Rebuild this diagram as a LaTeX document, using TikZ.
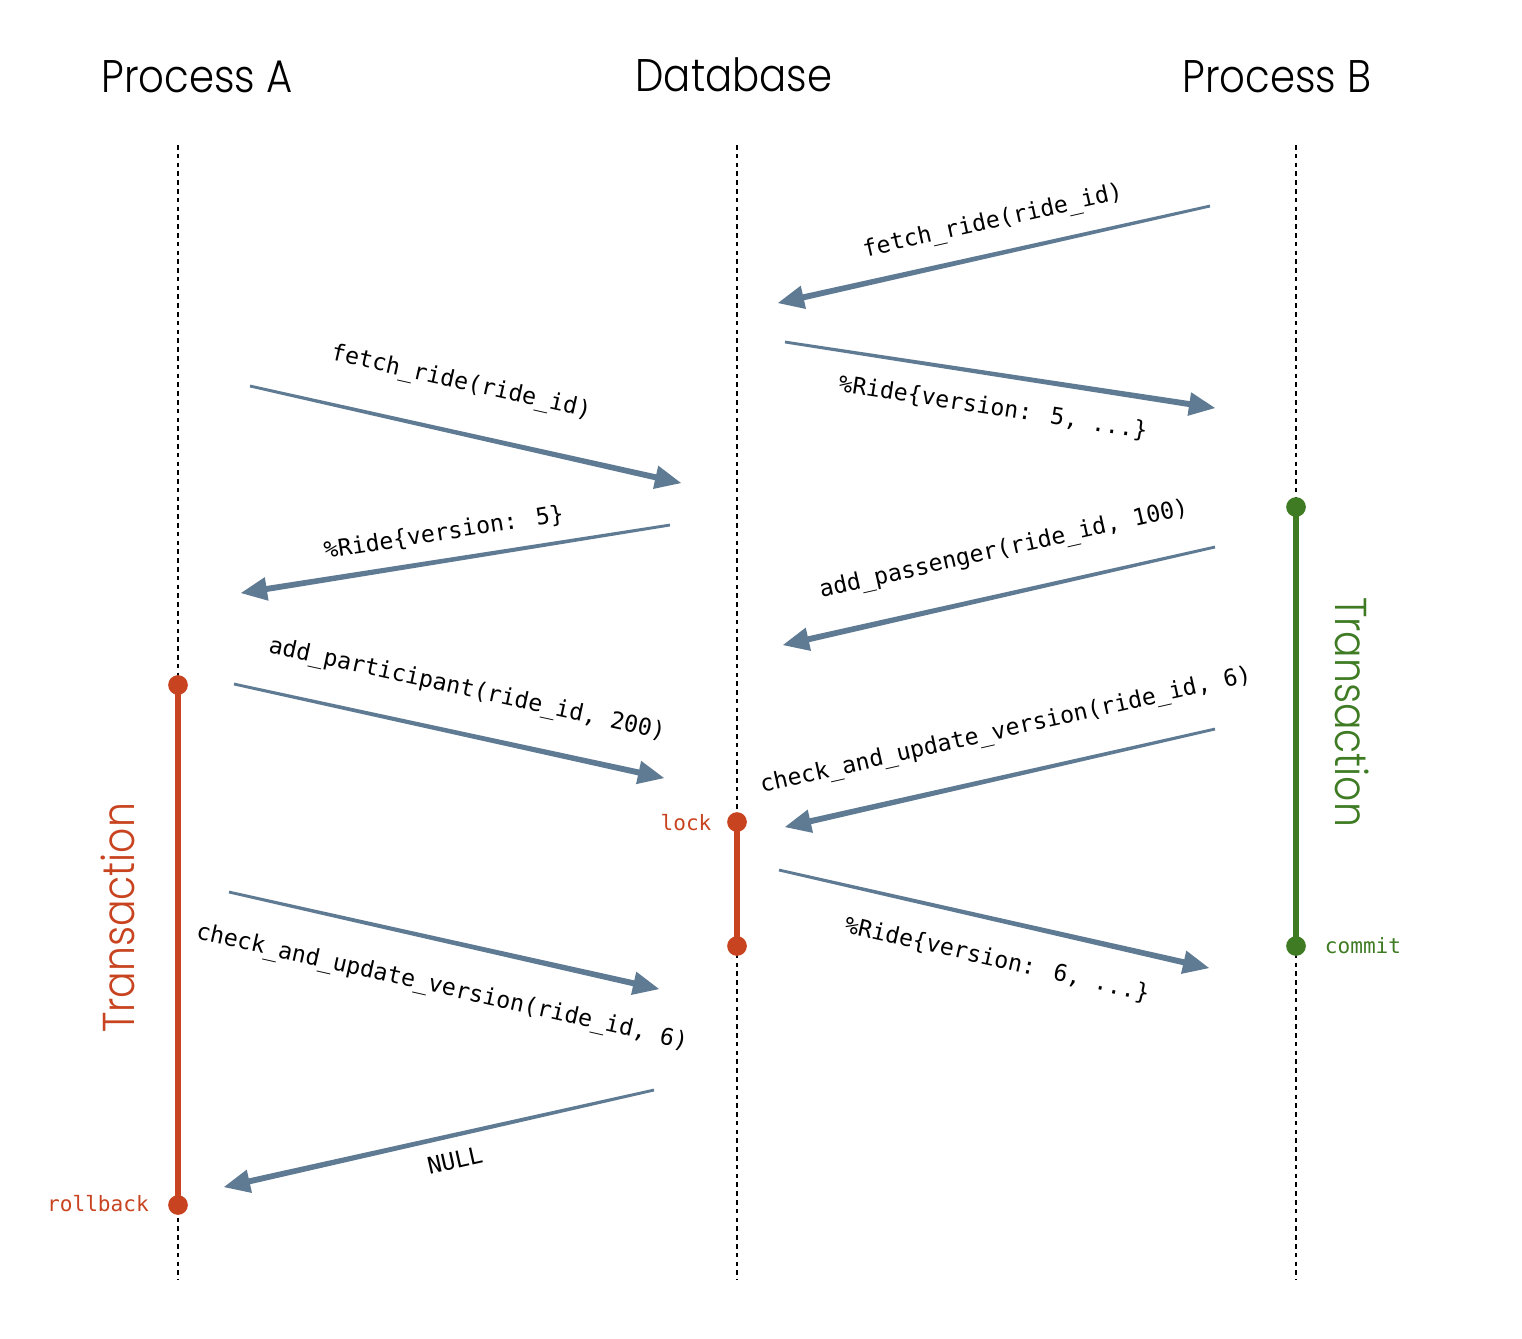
\documentclass[tikz,border=0pt]{standalone}
\usepackage{fontspec}
\usetikzlibrary{calc}
\newfontfamily\headfont{Poppins Light}[FakeStretch=0.88]
\newfontfamily\codefont{DejaVu Sans Mono}
\definecolor{arrowc}{HTML}{5F7A93}
\definecolor{txred}{HTML}{C8431F}
\definecolor{txgreen}{HTML}{3E7B23}
\newcommand\msgarrow[2]{%
  \coordinate (hb) at ($(#2)!0.26cm!(#1)$);
  \fill[arrowc] ($(#1)!0.4pt!90:(#2)$) -- ($(hb)!0.85pt!90:(#2)$) -- ($(hb)!3.4pt!90:(#2)$)
    -- (#2) -- ($(hb)!3.4pt!-90:(#2)$) -- ($(hb)!0.85pt!-90:(#2)$) -- ($(#1)!0.4pt!-90:(#2)$) -- cycle;
}
\tikzset{
  lifeline/.style={line width=0.8pt, dash pattern=on 1.3pt off 1.2pt},
  header/.style={font=\headfont\fontsize{13}{15}\selectfont, inner sep=0pt},
  msglabel/.style={font=\codefont\fontsize{6.6}{8}\selectfont, inner sep=0pt},
  smalllabel/.style={font=\codefont\fontsize{6}{7}\selectfont, inner sep=0pt},
  txlabel/.style={font=\headfont\fontsize{12.7}{15}\selectfont, inner sep=0pt},
  txbar/.style={line width=1.45pt},
  txdot/.style={circle, inner sep=0pt, minimum size=5.6pt},
}
\begin{document}
\begin{tikzpicture}[x=0.01cm, y=-0.01cm]
\useasboundingbox (0,0) rectangle (1522,1338);
% headers
\node[header] (hA) at (197,77) {Process A};
\node[header] (hD) at (734,75) {Database};
\node[header] (hB) at (1277,77) {Process B};
% lifelines
\coordinate (A0) at (178,145); \coordinate (A1) at (178,1280);
\coordinate (D0) at (737,145); \coordinate (D1) at (737,1280);
\coordinate (B0) at (1296,145); \coordinate (B1) at (1296,1280);
\draw[lifeline] (A0) -- (A1);
\draw[lifeline] (D0) -- (D1);
\draw[lifeline] (B0) -- (B1);
% transactions
\node[txdot, fill=txred] (ta0) at (178,685) {};
\node[txdot, fill=txred] (ta1) at (178,1205) {};
\draw[txbar, txred] (ta0.center) -- (ta1.center);
\node[txlabel, text=txred, rotate=90] (tat) at (118,918) {Transaction};
\node[smalllabel, text=txred] (rb) at (98,1204) {rollback};
\node[txdot, fill=txred] (l0) at (737,822) {};
\node[txdot, fill=txred] (l1) at (737,946) {};
\draw[txbar, txred] (l0.center) -- (l1.center);
\node[smalllabel, text=txred] (lk) at (686,823) {lock};
\node[txdot, fill=txgreen] (tb0) at (1296,507) {};
\node[txdot, fill=txgreen] (tb1) at (1296,946) {};
\draw[txbar, txgreen] (tb0.center) -- (tb1.center);
\node[txlabel, text=txgreen, rotate=-90] (tbt) at (1352,712) {Transaction};
\node[smalllabel, text=txgreen] (cm) at (1363,946) {commit};
% message endpoints
\coordinate (m1s) at (1210,206);  \coordinate (m1e) at (778,303);
\coordinate (m2s) at (785,342);   \coordinate (m2e) at (1215,408);
\coordinate (m3s) at (250,386);   \coordinate (m3e) at (681,483);
\coordinate (m4s) at (670,525);   \coordinate (m4e) at (241,593);
\coordinate (m5s) at (1215,547);  \coordinate (m5e) at (783,645);
\coordinate (m6s) at (234,684);   \coordinate (m6e) at (664,778);
\coordinate (m7s) at (1215,729);  \coordinate (m7e) at (785,827);
\coordinate (m8s) at (779,870);   \coordinate (m8e) at (1209,968);
\coordinate (m9s) at (229,892);   \coordinate (m9e) at (659,989);
\coordinate (m10s) at (654,1090); \coordinate (m10e) at (224,1187);
\msgarrow{m1s}{m1e}
\msgarrow{m2s}{m2e}
\msgarrow{m3s}{m3e}
\msgarrow{m4s}{m4e}
\msgarrow{m5s}{m5e}
\msgarrow{m6s}{m6e}
\msgarrow{m7s}{m7e}
\msgarrow{m8s}{m8e}
\msgarrow{m9s}{m9e}
\msgarrow{m10s}{m10e}
% labels
\node[msglabel, rotate=12.7] (t1) at (993,222) {fetch\_ride(ride\_id)};
\node[msglabel, rotate=-8.7] (t2) at (993,408) {\%Ride\{version: 5, ...\}};
\node[msglabel, rotate=-12.7] (t3) at (461,383) {fetch\_ride(ride\_id)};
\node[msglabel, rotate=9] (t4) at (444,533) {\%Ride\{version: 5\}};
\node[msglabel, rotate=12.8] (t5) at (1004,550) {add\_passenger(ride\_id, 100)};
\node[msglabel, rotate=-12.3] (t6) at (467,690) {add\_participant(ride\_id, 200)};
\node[msglabel, rotate=12.8] (t7) at (1006,731) {check\_and\_update\_version(ride\_id, 6)};
\node[msglabel, rotate=-12.8] (t8) at (997,960) {\%Ride\{version: 6, ...\}};
\node[msglabel, rotate=-12.7] (t9) at (442,988) {check\_and\_update\_version(ride\_id, 6)};
\node[msglabel, rotate=12.7] (t10) at (455,1160) {NULL};
\end{tikzpicture}
\end{document}
